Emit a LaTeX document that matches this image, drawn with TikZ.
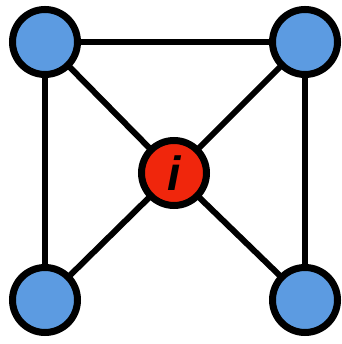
\documentclass[tikz,border=0pt]{standalone}
\usepackage{fontspec}
\setsansfont{Liberation Sans}
\usepackage{tikz}
\usetikzlibrary{backgrounds}
\definecolor{nodeblue}{RGB}{92,155,225}
\definecolor{nodered}{RGB}{240,38,12}
\tikzset{
  vertex/.style={circle, draw=black, line width=7pt, fill=nodeblue, minimum size=65pt, inner sep=0pt},
  hub/.style={vertex, fill=nodered, font=\sffamily\bfseries\itshape\fontsize{48}{48}\selectfont},
  edge/.style={line width=6pt, black},
}

\begin{document}
\begin{tikzpicture}[x=1pt, y=1pt]
\useasboundingbox (0,0) rectangle (341,344);
\node[vertex] (tl) at (45,302) {};
\node[vertex] (tr) at (305,302) {};
\node[vertex] (bl) at (45,44) {};
\node[vertex] (br) at (305,44) {};
\node[hub] (c) at (174,171) {i};
\begin{scope}[on background layer]
\draw[edge] (tl.center) -- (tr.center) -- (br.center);
\draw[edge] (tl.center) -- (bl.center);
\foreach \n in {tl,tr,bl,br}
  \draw[edge] (c.center) -- (\n.center);
\end{scope}
\end{tikzpicture}
\end{document}
